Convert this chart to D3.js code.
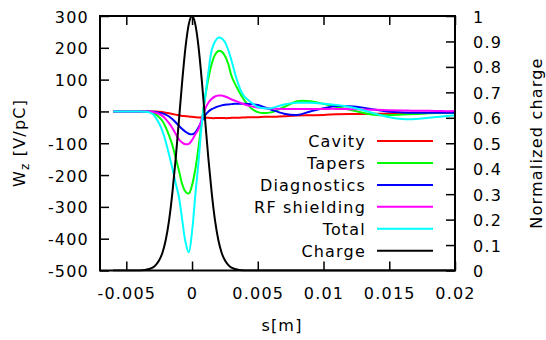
<!DOCTYPE html>
<html>
<head>
<meta charset="utf-8">
<script src="https://cdn.jsdelivr.net/npm/d3@7"></script>
<style>
  body { margin: 0; background: #fff; }
  text { font-family: "DejaVu Sans", sans-serif; font-size: 16px; letter-spacing: 1.2px; fill: #000; }
</style>
</head>
<body>
<svg width="546" height="340"></svg>
<script>
// positions along the bunch [m]
var sPos = [-0.006, -0.005, -0.004, -0.0035, -0.00325, -0.003, -0.00275, -0.0025, -0.00225, -0.002,
  -0.00175, -0.0015, -0.00125, -0.001, -0.00075, -0.0005, -0.00025, 0, 0.00025, 0.0005,
  0.00075, 0.001, 0.00125, 0.0015, 0.00175, 0.002, 0.00225, 0.0025, 0.00275, 0.003,
  0.00325, 0.0035, 0.00375, 0.004, 0.0045, 0.005, 0.0055, 0.006, 0.007, 0.008,
  0.009, 0.01, 0.011, 0.012, 0.013, 0.014, 0.015, 0.016, 0.017, 0.018, 0.019, 0.02];

// wake potentials [V/pC]
var cavity = [0, 0, 0, 0, 0, 0, 0, -1, -2, -4,
  -6, -8, -10, -12, -14, -15, -16, -17, -18, -19,
  -19, -20, -20, -21, -21, -21, -21, -21, -21, -20,
  -20, -20, -19, -19, -18, -18, -17, -17, -15, -13,
  -12, -11, -9, -8, -8, -7, -7, -6, -6, -5, -5, -5];
var tapers = [0, 0, 0, -1, -2, -5, -10, -18, -30, -50,
  -75, -105, -145, -185, -228, -252, -258, -232, -182, -110,
  -30, 45, 105, 150, 178, 190, 188, 175, 150, 112,
  88, 68, 50, 34, 10, -2, -5, -3, 14, 32,
  32, 24, 14, 5, -4, -11, -12, -10, -8, -6, -5, -5];
var diagnostics = [0, 0, 0, 0, 0, -1, -2, -4, -6, -10,
  -16, -24, -34, -45, -55, -64, -70, -72, -66, -50,
  -30, -12, 0, 7, 12, 16, 19, 21, 22, 23,
  24, 24, 24, 24, 23, 20, 13, 6, -7, -11,
  0, 10, 17, 16, 12, 5, -1, -3, -4, -4, -4, -4];
var rfShielding = [0, 0, 0, 0, -1, -2, -4, -8, -14, -24,
  -37, -52, -70, -88, -98, -103, -102, -90, -72, -55,
  -22, 8, 28, 40, 47, 50, 50, 47, 43, 38,
  34, 30, 26, 22, 16, 12, 10, 9, 8, 8,
  8, 8, 8, 7, 6, 5, 4, 3, 2, 2, 1, 1];
var total = [0, 0, 0, -1, -3, -8, -20, -38, -62, -95,
  -135, -178, -225, -268, -340, -410, -443, -378, -262, -155,
  -35, 45, 125, 193, 220, 232, 230, 218, 194, 160,
  122, 88, 62, 46, 28, 14, 10, 10, 22, 27,
  27, 24, 20, 14, 4, -8, -18, -24, -24, -20, -16, -12];
// normalized bunch charge
var charge = [0, 0, 0.0004, 0.003, 0.006, 0.011, 0.022, 0.04, 0.07, 0.12,
  0.196, 0.303, 0.436, 0.588, 0.742, 0.876, 0.967, 1, 0.967, 0.876,
  0.742, 0.588, 0.436, 0.303, 0.196, 0.12, 0.07, 0.04, 0.022, 0.011,
  0.006, 0.003, 0.0012, 0.0004, 0, 0, 0, 0, 0, 0,
  0, 0, 0, 0, 0, 0, 0, 0, 0, 0, 0, 0];

var seriesNames = ["Cavity", "Tapers", "Diagnostics", "RF shielding", "Total", "Charge"];
var seriesColors = ["#ff0000", "#00ff00", "#0000ff", "#ff00ff", "#00ffff", "#000000"];

var xTicks = [-0.005, 0, 0.005, 0.01, 0.015, 0.02];
var wTicks = [-500, -400, -300, -200, -100, 0, 100, 200, 300];
var qTicks = [0, 0.1, 0.2, 0.3, 0.4, 0.5, 0.6, 0.7, 0.8, 0.9, 1];

var svg = d3.select("svg");
var plotL = 100, plotR = 455, plotT = 16, plotB = 270.5;

var x = d3.scaleLinear().domain([-0.007, 0.02]).range([plotL, plotR]);
var yW = d3.scaleLinear().domain([-500, 300]).range([plotB, plotT]);
var yQ = d3.scaleLinear().domain([0, 1]).range([plotB, plotT]);

var fmt = function (d) { return String(Math.round(d * 1000) / 1000); };

// axes, ticks pointing inwards
svg.append("g").attr("transform", "translate(0," + plotB + ")")
  .call(d3.axisBottom(x).tickValues(xTicks).tickFormat(fmt).tickSize(-9).tickSizeOuter(0).tickPadding(17));
svg.append("g").attr("transform", "translate(0," + plotT + ")")
  .call(d3.axisTop(x).tickValues(xTicks).tickFormat("").tickSize(-9).tickSizeOuter(0));
var gl = svg.append("g").attr("transform", "translate(" + plotL + ",0)")
  .call(d3.axisLeft(yW).tickValues(wTicks).tickFormat(fmt).tickSize(-9).tickSizeOuter(0).tickPadding(11));
var gr = svg.append("g").attr("transform", "translate(" + plotR + ",0)")
  .call(d3.axisRight(yQ).tickValues(qTicks).tickFormat(fmt).tickSize(-9).tickSizeOuter(0).tickPadding(18));

svg.selectAll(".domain").remove();
svg.selectAll(".tick line").attr("stroke", "#000").attr("stroke-width", 1.5);
svg.selectAll(".tick text").attr("font-family", null).attr("font-size", null).style("fill", "#000");
gl.selectAll(".tick text").attr("dy", "0.38em");
gr.selectAll(".tick text").attr("dy", "0.38em");

// data lines
svg.append("clipPath").attr("id", "clip")
  .append("rect").attr("x", plotL).attr("y", plotT - 1).attr("width", plotR - plotL).attr("height", plotB - plotT + 2);

var wakes = [cavity, tapers, diagnostics, rfShielding, total];
var lineW = d3.line()
  .x(function (d, i) { return x(sPos[i]); })
  .y(function (d) { return yW(d); })
  .curve(d3.curveCatmullRom.alpha(0.5));
var lineQ = d3.line()
  .x(function (d, i) { return x(sPos[i]); })
  .y(function (d) { return yQ(d); })
  .curve(d3.curveMonotoneX);

var plot = svg.append("g").attr("clip-path", "url(#clip)");
wakes.forEach(function (w, k) {
  plot.append("path")
    .attr("d", lineW(w))
    .attr("fill", "none")
    .attr("stroke", seriesColors[k])
    .attr("stroke-width", 2);
});
plot.append("path")
  .attr("d", lineQ(charge))
  .attr("fill", "none")
  .attr("stroke", seriesColors[5])
  .attr("stroke-width", 2);

// frame
svg.append("rect")
  .attr("x", plotL).attr("y", plotT)
  .attr("width", plotR - plotL).attr("height", plotB - plotT)
  .attr("fill", "none").attr("stroke", "#000").attr("stroke-width", 2);

// legend
var legend = svg.append("g");
seriesNames.forEach(function (name, k) {
  var ly = 141 + k * 21.95;
  legend.append("text")
    .attr("x", 366).attr("y", ly).attr("dy", "0.36em")
    .attr("text-anchor", "end")
    .text(name);
  legend.append("line")
    .attr("x1", 377).attr("x2", 433)
    .attr("y1", ly).attr("y2", ly)
    .attr("stroke", seriesColors[k]).attr("stroke-width", 2);
});

// axis titles
svg.append("text")
  .attr("x", 282).attr("y", 331)
  .attr("text-anchor", "middle")
  .text("s[m]");

var wt = svg.append("text")
  .attr("transform", "translate(25,143) rotate(-90)")
  .attr("text-anchor", "middle");
wt.append("tspan").text("W");
wt.append("tspan").attr("dy", 4).style("font-size", "12px").text("z");
wt.append("tspan").attr("dy", -4).text(" [V/pC]");

svg.append("text")
  .attr("transform", "translate(542,143) rotate(-90)")
  .attr("text-anchor", "middle")
  .text("Normalized charge");
</script>
</body>
</html>
